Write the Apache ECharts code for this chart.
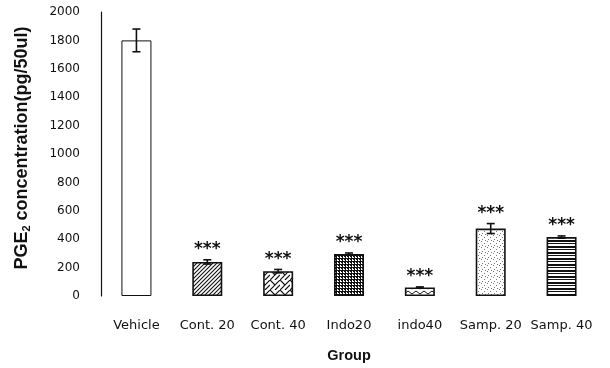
<!DOCTYPE html>
<html>
<head>
<meta charset="utf-8">
<script src="https://cdn.jsdelivr.net/npm/echarts@6/dist/echarts.min.js"></script>
<style>
  html, body { margin: 0; padding: 0; background: #fff; }
  #chart { width: 610px; height: 368px; }
</style>
</head>
<body>
<div id="chart"></div>
<script>
// PGE2 concentration by treatment group (mean ± error)
const groups = ['Vehicle', 'Cont. 20', 'Cont. 40', 'Indo20', 'indo40', 'Samp. 20', 'Samp. 40'];
const means = [1800, 240, 175, 295, 60, 475, 415];
const errors = [80, 15, 12, 8, 4, 35, 8];
const marks = ['', '***', '***', '***', '***', '***', '***'];
const yTicks = [0, 200, 400, 600, 800, 1000, 1200, 1400, 1600, 1800, 2000];

const tickFont = 'DejaVu Sans, sans-serif';
const titleFont = 'Liberation Sans, Arial, sans-serif';

// Monochrome fill textures, one per bar
function tile(w, h, draw) {
  const c = document.createElement('canvas');
  c.width = w; c.height = h;
  const g = c.getContext('2d');
  g.fillStyle = '#fff';
  g.fillRect(0, 0, w, h);
  g.strokeStyle = '#111';
  g.fillStyle = '#111';
  draw(g, w, h);
  return { image: c, repeat: 'repeat' };
}
const fills = [
  '#ffffff',
  // fine diagonal hatch
  tile(4, 4, (g) => { g.lineWidth = 1.1; g.beginPath(); g.moveTo(-1, 5); g.lineTo(5, -1); g.moveTo(-1, 1); g.lineTo(1, -1); g.moveTo(3, 5); g.lineTo(5, 3); g.stroke(); }),
  // woven / brick diagonal
  tile(10, 10, (g) => { g.lineWidth = 1.2; g.beginPath(); g.moveTo(0, 10); g.lineTo(10, 0); g.moveTo(0, 0); g.lineTo(5, 5); g.moveTo(5, 10); g.lineTo(10, 5); g.stroke(); }),
  // dense grid
  tile(3, 3, (g) => { g.fillRect(0, 0, 3, 1); g.fillRect(0, 0, 1, 3); g.fillRect(2, 1, 1, 1); }),
  // zigzag waves
  tile(8, 5, (g) => { g.lineWidth = 1; g.beginPath(); g.moveTo(0, 1); g.lineTo(4, 4); g.lineTo(8, 1); g.stroke(); }),
  // light stipple
  tile(6, 6, (g) => { g.fillStyle = '#777'; g.fillRect(1, 1, 1, 1); g.fillRect(4, 3, 1, 1); g.fillRect(2, 5, 1, 1); g.fillRect(5, 0, 1, 1); }),
  // horizontal lines
  tile(4, 6, (g) => { g.fillRect(0, 0, 4, 2); g.fillRect(0, 3, 4, 1); })
];

const chart = echarts.init(document.getElementById('chart'), null, { renderer: 'canvas' });

chart.setOption({
  animation: false,
  backgroundColor: '#fff',
  textStyle: { fontFamily: tickFont },
  grid: { left: 101, right: 13, top: 12, bottom: 71 },
  xAxis: {
    type: 'category',
    data: groups,
    axisLine: { show: false },
    axisTick: { show: false },
    axisLabel: { interval: 0, color: '#111', fontSize: 13, fontFamily: tickFont, margin: 23 },
    name: 'Group',
    nameLocation: 'middle',
    nameGap: 52,
    nameTextStyle: { color: '#111', fontSize: 14.5, fontWeight: 'bold', fontFamily: titleFont }
  },
  yAxis: {
    type: 'value',
    min: yTicks[0],
    max: yTicks[yTicks.length - 1],
    interval: yTicks[1] - yTicks[0],
    axisLine: { show: true, lineStyle: { color: '#111', width: 1.2 } },
    axisTick: { show: false },
    splitLine: { show: false },
    axisLabel: { color: '#111', fontSize: 12, fontFamily: tickFont, margin: 21, formatter: (v) => String(v) },
    name: '{a|PGE}{s|2}{a| concentration(pg/50ul)}',
    nameLocation: 'middle',
    nameRotate: 90,
    nameGap: 69,
    nameTextStyle: {
      padding: [0, 0, 0, 12],
      rich: {
        a: { fontSize: 18, fontWeight: 'bold', color: '#111', fontFamily: titleFont },
        s: { fontSize: 11, fontWeight: 'bold', color: '#111', fontFamily: titleFont, padding: [8, 0, 0, 0] }
      }
    }
  },
  series: [
    {
      type: 'bar',
      barWidth: 30,
      data: means.map((v, i) => ({
        value: v,
        itemStyle: { color: fills[i], borderColor: '#111', borderWidth: i === 0 ? 1 : 1.6 }
      }))
    },
    {
      type: 'custom',
      data: means.map((v, i) => [i, v, errors[i]]),
      z: 5,
      renderItem: (params, api) => {
        const x = api.value(0), m = api.value(1), e = api.value(2);
        const hi = api.coord([x, m + e]);
        const lo = api.coord([x, m - e]);
        const cap = 4;
        const style = { stroke: '#111', lineWidth: 1.6 };
        const children = [
          { type: 'line', shape: { x1: hi[0], y1: hi[1], x2: lo[0], y2: lo[1] }, style },
          { type: 'line', shape: { x1: hi[0] - cap, y1: hi[1], x2: hi[0] + cap, y2: hi[1] }, style },
          { type: 'line', shape: { x1: lo[0] - cap, y1: lo[1], x2: lo[0] + cap, y2: lo[1] }, style }
        ];
        const label = marks[params.dataIndex];
        if (label) {
          children.push({
            type: 'text',
            style: {
              text: label, x: hi[0], y: hi[1] - 10,
              align: 'center', verticalAlign: 'middle',
              fontSize: 17, fontWeight: 'bold', fill: '#111',
              fontFamily: 'DejaVu Sans, sans-serif'
            }
          });
        }
        return { type: 'group', children };
      }
    }
  ]
});
</script>
</body>
</html>
